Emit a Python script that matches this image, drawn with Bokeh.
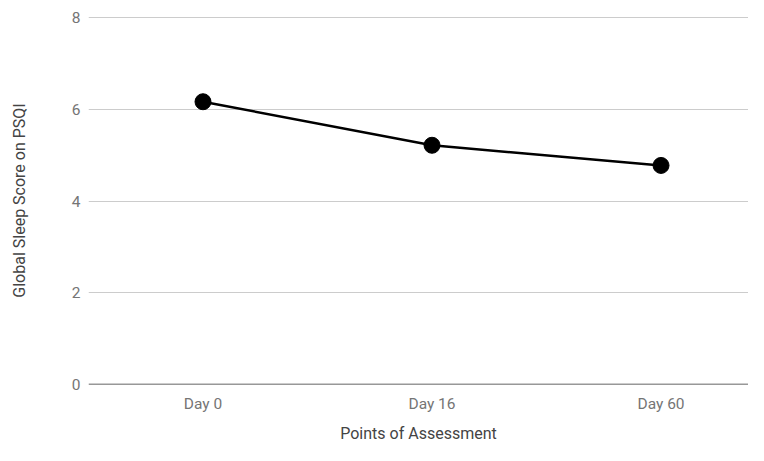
from bokeh.plotting import figure
from bokeh.models import Range1d, FixedTicker, Span
from bokeh.embed import file_html
from bokeh.resources import INLINE

categories = ["Day 0", "Day 16", "Day 60"]
scores = [6.17, 5.22, 4.78]
y_ticks = [0, 2, 4, 6, 8]

xs = [i + 0.5 for i in range(len(categories))]

p = figure(width=748, height=445, output_backend="svg", toolbar_location=None,
           x_range=Range1d(0, 2.882), y_range=Range1d(0, 8.03),
           min_border_left=88, min_border_right=0, min_border_top=16, min_border_bottom=61)
p.outline_line_color = None
p.background_fill_color = "white"
p.border_fill_color = "white"

p.line(xs, scores, line_color="black", line_width=2.5)
p.scatter(xs, scores, size=16, fill_color="black", line_color="black")

p.xaxis.ticker = FixedTicker(ticks=xs)
p.xaxis.major_label_overrides = {x: c for x, c in zip(xs, categories)}
p.yaxis.ticker = FixedTicker(ticks=y_ticks)

for ax in (p.xaxis, p.yaxis):
    ax.axis_line_color = None
    ax.major_tick_line_color = None
    ax.minor_tick_line_color = None
    ax.major_tick_in = 0
    ax.major_tick_out = 0
    ax.minor_tick_in = 0
    ax.minor_tick_out = 0
    ax.major_label_text_font = "Roboto"
    ax.major_label_text_font_size = "15.5px"
    ax.major_label_text_color = "#757575"
    ax.axis_label_text_font = "Roboto"
    ax.axis_label_text_font_size = "16px"
    ax.axis_label_text_font_style = "normal"
    ax.axis_label_text_color = "#444444"

p.xaxis.axis_label = "Points of Assessment"
p.yaxis.axis_label = "Global Sleep Score on PSQI"
p.xaxis.major_label_standoff = 10
p.xaxis.axis_label_standoff = 8
p.yaxis.major_label_standoff = 8
p.yaxis.axis_label_standoff = 40

p.xgrid.grid_line_color = None
p.ygrid.grid_line_color = "#cccccc"
p.ygrid.grid_line_width = 1

p.add_layout(Span(location=0, dimension="width", line_color="#333333", line_width=1.5))

open("out.html", "w").write(file_html(p, INLINE))
